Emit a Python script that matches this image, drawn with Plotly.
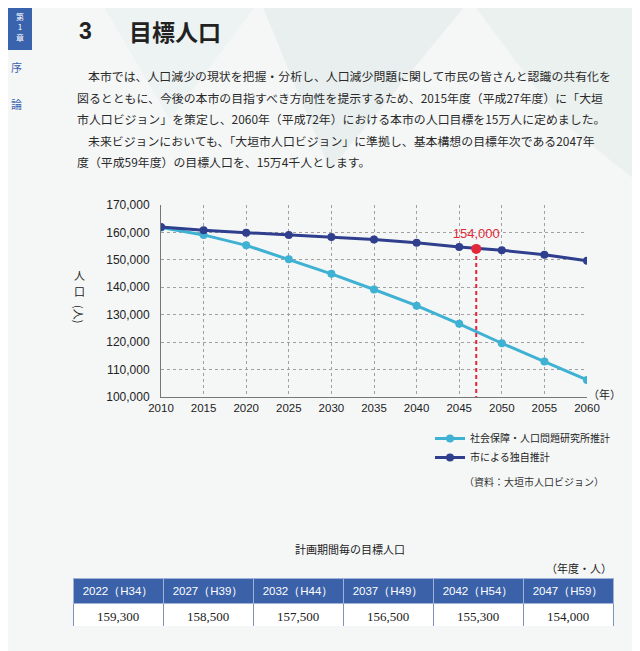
import plotly.graph_objects as go

W, H = 640, 651

years = [2010, 2015, 2020, 2025, 2030, 2035, 2040, 2045, 2050, 2055, 2060]
ipss = [161800, 159100, 155300, 150200, 144900, 139200, 133300, 126700, 119600, 112900, 106200]
city = [162000, 160800, 159900, 159100, 158300, 157400, 156200, 154700, 153500, 151900, 149700]
series_names = ["社会保障・人口問題研究所推計", "市による独自推計"]

target_year = 2047
target_value = 154000

yticks = [100000, 110000, 120000, 130000, 140000, 150000, 160000, 170000]

table_head = ["2022（H34）", "2027（H39）", "2032（H44）", "2037（H49）", "2042（H54）", "2047（H59）"]
table_vals = ["159,300", "158,500", "157,500", "156,500", "155,300", "154,000"]

paragraph = [
    "本市では、人口減少の現状を把握・分析し、人口減少問題に関して市民の皆さんと認識の共有化を",
    "図るとともに、今後の本市の目指すべき方向性を提示するため、2015年度（平成27年度）に「大垣",
    "市人口ビジョン」を策定し、2060年（平成72年）における本市の人口目標を15万人に定めました。",
    "未来ビジョンにおいても、「大垣市人口ビジョン」に準拠し、基本構想の目標年次である2047年",
    "度（平成59年度）の目標人口を、15万4千人とします。",
]

JP = "Noto Sans CJK JP"
SANS = "Liberation Sans"
LIGHT = "#3fb1d3"
DARK = "#2f3f8e"
RED = "#e3283a"
BLUE = "#3b62a9"

OFF = 8  # page offset of the figure in the browser


def px(x):
    return (x - OFF) / W


def py(y):
    return 1 - (y - OFF) / H


fig = go.Figure()

fig.add_trace(go.Scatter(
    x=years, y=ipss, mode="lines+markers", name=series_names[0],
    line=dict(color=LIGHT, width=3), marker=dict(color=LIGHT, size=8),
))
fig.add_trace(go.Scatter(
    x=years, y=city, mode="lines+markers", name=series_names[1],
    line=dict(color=DARK, width=3), marker=dict(color=DARK, size=8),
))
fig.add_trace(go.Scatter(
    x=[target_year, target_year], y=[target_value, yticks[0]], mode="lines",
    line=dict(color=RED, width=2, dash="4px,3px"), showlegend=False, hoverinfo="skip",
))
fig.add_trace(go.Scatter(
    x=[target_year], y=[target_value], mode="markers+text",
    marker=dict(color=RED, size=10),
    text=[f"{target_value:,}"], textposition="top center",
    textfont=dict(color=RED, size=13, family=SANS),
    showlegend=False,
))

fig.add_trace(go.Table(
    domain=dict(x=[px(73), px(613)], y=[py(626), py(578)]),
    columnwidth=[1] * 6,
    header=dict(values=table_head, fill_color=BLUE, align="center", height=25,
                font=dict(color="white", size=11.5, family=SANS),
                line=dict(color="#9fb3da", width=1)),
    cells=dict(values=[[v] for v in table_vals], fill_color="white", align="center", height=23,
               font=dict(color="#222", size=13, family="Liberation Serif"),
               line=dict(color="#7f93bd", width=1)),
))

shapes = [
    dict(type="path", xref="paper", yref="paper",
         path=f"M {px(260)},{py(0)} L {px(470)},{py(0)} L {px(330)},{py(170)} Z",
         fillcolor="#dfe9e7", line=dict(width=0), layer="below", opacity=0.6),
    dict(type="path", xref="paper", yref="paper",
         path=f"M {px(470)},{py(0)} L {px(660)},{py(0)} L {px(660)},{py(200)} L {px(560)},{py(120)} Z",
         fillcolor="#e4ecea", line=dict(width=0), layer="below", opacity=0.6),
    dict(type="path", xref="paper", yref="paper",
         path=f"M {px(100)},{py(0)} L {px(260)},{py(0)} L {px(170)},{py(120)} Z",
         fillcolor="#e8efee", line=dict(width=0), layer="below", opacity=0.6),
    dict(type="rect", xref="paper", yref="paper", x0=px(0), x1=px(32), y0=py(50), y1=py(0),
         fillcolor="#3a63ad", line=dict(width=0)),
]

ann = []


def add_text(x, y, text, size, color="#222", family=JP, xanchor="center", angle=0):
    ann.append(dict(xref="paper", yref="paper", x=px(x), y=py(y), text=text, showarrow=False,
                    xanchor=xanchor, yanchor="middle", textangle=angle,
                    font=dict(color=color, size=size, family=family)))


add_text(20, 27, "第<br>1<br>章", 8, color="white")
add_text(16, 67, "序", 11, color="#3a63ad")
add_text(16, 104, "論", 11, color="#3a63ad")
add_text(77, 31, "<b>3</b>", 23, family=SANS, xanchor="left")
add_text(127, 31, "<b>目標人口</b>", 23, xanchor="left")

line_y = [75, 97, 118, 140, 161]
line_x = [86, 75, 75, 86, 75]
for t, yy, xx in zip(paragraph, line_y, line_x):
    add_text(xx, yy, t, 11.9, color="#2a2a2a", xanchor="left")

add_text(79, 275, "人", 11)
add_text(79, 291, "口", 11)
add_text(79, 314, "(人)", 11, angle=90)

add_text(586, 394, "（年）", 11, xanchor="left")
add_text(606, 481, "（資料：大垣市人口ビジョン）", 10, color="#333", xanchor="right")
add_text(350, 549, "計画期間毎の目標人口", 11)
add_text(614, 568, "（年度・人）", 11, xanchor="right")

fig.update_layout(
    width=W, height=H, margin=dict(l=0, r=0, t=0, b=0, autoexpand=False),
    paper_bgcolor="#f5f7f7", plot_bgcolor="rgba(0,0,0,0)",
    shapes=shapes, annotations=ann,
    showlegend=True,
    legend=dict(x=px(430), y=py(424), xanchor="left", yanchor="top",
                font=dict(size=10, family=JP, color="#222"),
                bgcolor="rgba(0,0,0,0)", itemwidth=30),
    xaxis=dict(domain=[px(161), px(587)], range=[2010, 2060], tickvals=years,
               showgrid=True, gridcolor="#a0a0a0", griddash="dot", gridwidth=1,
               showline=True, linecolor="#777", linewidth=1, zeroline=False,
               ticks="", tickfont=dict(size=11.5, family=SANS, color="#222"), fixedrange=True),
    yaxis=dict(domain=[py(397), py(205)], range=[100000, 170000], tickvals=yticks,
               tickformat=",", showgrid=True, gridcolor="#a0a0a0", griddash="dot", gridwidth=1,
               showline=True, linecolor="#777", linewidth=1, zeroline=False, ticklabelstandoff=8,
               ticks="", tickfont=dict(size=12, family=SANS, color="#222"), fixedrange=True),
)

fig.write_html("out.html")
